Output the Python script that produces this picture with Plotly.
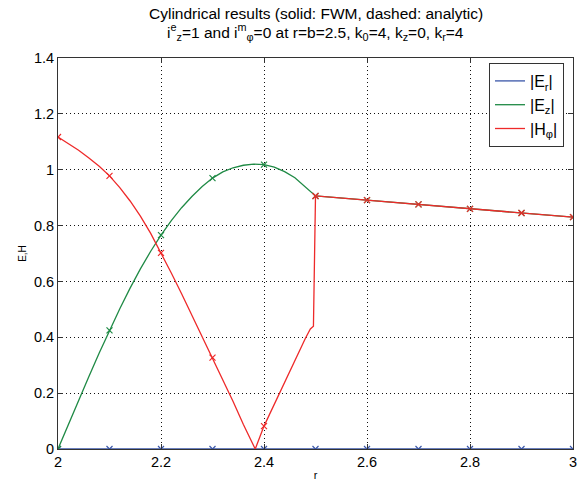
import plotly.graph_objects as go

# ---- data ----
r_ez = [2.00, 2.02, 2.04, 2.06, 2.08, 2.10, 2.12, 2.14, 2.16, 2.18, 2.20, 2.22, 2.24,
        2.26, 2.28, 2.30, 2.32, 2.34, 2.36, 2.38, 2.40, 2.42, 2.44, 2.46, 2.48, 2.50,
        2.60, 2.70, 2.80, 2.90, 3.00]
ez = [0.000, 0.088, 0.175, 0.260, 0.344, 0.425, 0.502, 0.576, 0.645, 0.708, 0.766,
      0.818, 0.864, 0.904, 0.940, 0.970, 0.992, 1.007, 1.016, 1.020, 1.018, 1.009,
      0.993, 0.971, 0.940, 0.906, 0.891, 0.876, 0.860, 0.845, 0.830]

r_h = [2.00, 2.02, 2.04, 2.06, 2.08, 2.10, 2.12, 2.14, 2.16, 2.18, 2.20, 2.22, 2.24,
       2.26, 2.28, 2.30, 2.32, 2.34, 2.36, 2.38, 2.383, 2.40, 2.42, 2.44, 2.46, 2.48,
       2.49, 2.496, 2.50, 2.60, 2.70, 2.80, 2.90, 3.00]
hphi = [1.117, 1.095, 1.070, 1.042, 1.012, 0.978, 0.936, 0.888, 0.834, 0.772, 0.702,
        0.630, 0.556, 0.480, 0.403, 0.327, 0.250, 0.170, 0.088, 0.008, 0.000, 0.082,
        0.160, 0.240, 0.320, 0.395, 0.430, 0.440, 0.906, 0.891, 0.876, 0.860, 0.845, 0.830]

r_er = [2.0, 3.0]
er = [0.0, 0.0]

# analytic samples (markers)
r_mk = [2.0, 2.1, 2.2, 2.3, 2.4, 2.5, 2.6, 2.7, 2.8, 2.9, 3.0]
er_mk = [0, 0, 0, 0, 0, 0, 0, 0, 0, 0, 0]
ez_mk = [0.000, 0.425, 0.766, 0.970, 1.018, 0.906, 0.891, 0.876, 0.860, 0.845, 0.830]
h_mk = [1.117, 0.978, 0.702, 0.327, 0.082, 0.906, 0.891, 0.876, 0.860, 0.845, 0.830]

x_ticks = [2, 2.2, 2.4, 2.6, 2.8, 3]
y_ticks = [0, 0.2, 0.4, 0.6, 0.8, 1, 1.2, 1.4]

title1 = "Cylindrical results (solid: FWM, dashed: analytic)"
title2 = ("i<sup>e</sup><sub>z</sub>=1 and i<sup>m</sup><sub>φ</sub>=0 at r=b=2.5, "
          "k<sub>0</sub>=4, k<sub>z</sub>=0, k<sub>r</sub>=4")

BLUE = "#3a56a8"
GREEN = "#1f8a45"
RED = "#ee2a2a"
FONT = "Liberation Sans, Arial, Helvetica, sans-serif"

W, H = 585, 484
L, R, T, B = 58, 12, 58, 35
PH = H - T - B  # plot height in px
PW = W - L - R


def py(ypix):
    """page pixel y -> paper y"""
    return (H - B - ypix) / PH


fig = go.Figure()
fig.add_trace(go.Scatter(x=r_er, y=er, mode="lines", line=dict(color=BLUE, width=1.3),
                         name="|E<sub>r</sub>|"))
fig.add_trace(go.Scatter(x=r_ez, y=ez, mode="lines", line=dict(color=GREEN, width=1.3),
                         name="|E<sub>z</sub>|"))
fig.add_trace(go.Scatter(x=r_h, y=hphi, mode="lines", line=dict(color=RED, width=1.3),
                         name="|H<sub>φ</sub>|"))
for yv, c in [(er_mk, BLUE), (ez_mk, GREEN), (h_mk, RED)]:
    fig.add_trace(go.Scatter(x=r_mk, y=yv, mode="markers", showlegend=False,
                             marker=dict(symbol="x-thin", size=6, color=c,
                                         line=dict(color=c, width=1.2))))

fig.update_layout(
    width=W, height=H, autosize=False,
    margin=dict(l=L, r=R, t=T, b=B),
    paper_bgcolor="white", plot_bgcolor="white",
    font=dict(family=FONT, color="black", size=14),
    legend=dict(
        x=(564 - L) / PW, xanchor="right", y=py(63), yanchor="top",
        bgcolor="white", bordercolor="#333", borderwidth=1,
        font=dict(size=16, family=FONT), tracegroupgap=0, itemwidth=30),
    showlegend=True,
    annotations=[
        dict(text=title1, xref="paper", yref="paper", x=0.5, y=py(13.5),
             xanchor="center", yanchor="middle", showarrow=False,
             font=dict(size=15.5, family=FONT)),
        dict(text=title2, xref="paper", yref="paper", x=0.5, y=py(31.5),
             xanchor="center", yanchor="middle", showarrow=False,
             font=dict(size=15.5, family=FONT)),
    ],
)
fig.update_xaxes(
    range=[2, 3], tickvals=x_ticks, ticktext=["2", "2.2", "2.4", "2.6", "2.8", "3"],
    automargin=False,
    showline=True, linecolor="#333", linewidth=1, mirror="ticks",
    ticks="inside", ticklen=5, tickcolor="#333",
    showgrid=True, gridcolor="#111", griddash="1px,3px", gridwidth=1,
    zeroline=False, tickfont=dict(size=14.5),
    title=dict(text="r", font=dict(size=11), standoff=1))
fig.update_yaxes(
    range=[0, 1.4], tickvals=y_ticks,
    ticktext=["0", "0.2", "0.4", "0.6", "0.8", "1", "1.2", "1.4"],
    automargin=False,
    showline=True, linecolor="#333", linewidth=1, mirror="ticks",
    ticks="inside", ticklen=5, tickcolor="#333",
    showgrid=True, gridcolor="#111", griddash="1px,3px", gridwidth=1,
    zeroline=False, tickfont=dict(size=14.5),
    title=dict(text="E,H", font=dict(size=10), standoff=5))

fig.write_html("out.html",
               config={"displayModeBar": False},
               post_script="document.body.style.margin='0';"
                           "document.body.style.overflow='hidden';")
